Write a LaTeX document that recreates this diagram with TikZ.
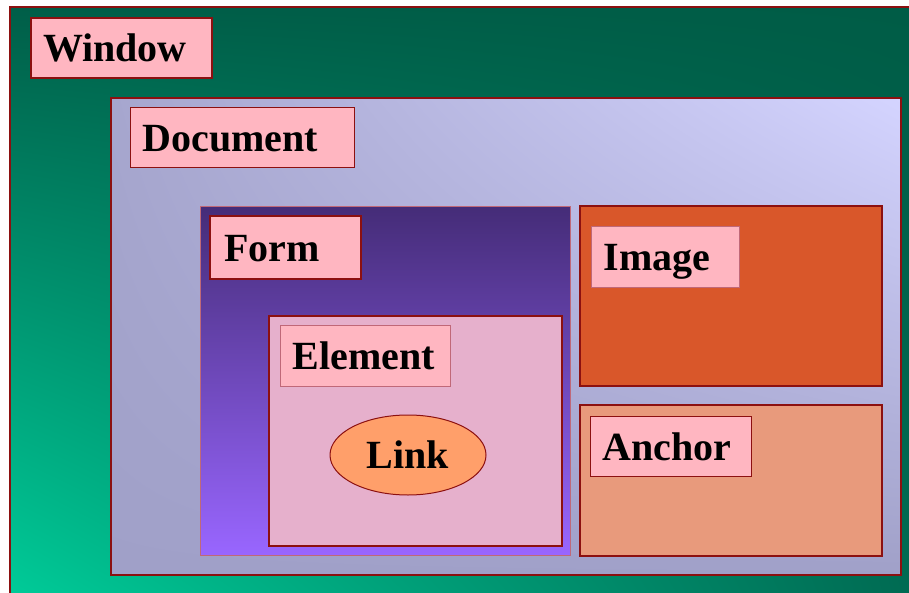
\documentclass[tikz,border=0pt]{standalone}
\usepackage{fontspec}
\setmainfont{Liberation Serif}
\usetikzlibrary{shapes.geometric,shadings}
\definecolor{bdr}{HTML}{8C1010}
\definecolor{lbl}{HTML}{FFB6C1}
\definecolor{elemfill}{HTML}{E6B0CC}
\definecolor{imgfill}{HTML}{D9572A}
\definecolor{ancfill}{HTML}{E89A7C}
\definecolor{linkfill}{HTML}{FF9F6A}
\definecolor{thinbdr}{HTML}{C06878}
\definecolor{winUL}{HTML}{005E48}
\definecolor{winUR}{HTML}{005C46}
\definecolor{winLL}{HTML}{00CC99}
\definecolor{winLR}{HTML}{006A52}
\definecolor{docUL}{HTML}{A6A6CE}
\definecolor{docUR}{HTML}{D4D4FF}
\definecolor{docLL}{HTML}{A0A0C8}
\definecolor{docLR}{HTML}{A0A0C8}
\definecolor{formtop}{HTML}{452C78}
\definecolor{formbot}{HTML}{9966FF}
\tikzset{
  box/.style={rectangle, anchor=north west, inner sep=0pt, draw=bdr, line width=2.4pt},
  lab/.style={rectangle, anchor=north west, fill=lbl, draw=bdr, line width=2pt,
    font=\bfseries\fontsize{40}{42}\selectfont, text height=27pt, text depth=0pt,
    inner xsep=12pt, inner ysep=0pt, align=left},
  lablight/.style={lab, draw=thinbdr, line width=1pt},
}
\begin{document}
\begin{tikzpicture}[x=1pt,y=-1pt]
\clip (0,0) rectangle (909,593);
\fill[white] (0,0) rectangle (909,593);
% Window
\node[box, minimum width=906pt, minimum height=592pt,
  upper left=winUL, upper right=winUR, lower left=winLL, lower right=winLR]
  (window) at (9,6) {};
% Document
\node[box, minimum width=790pt, minimum height=477pt,
  upper left=docUL, upper right=docUR, lower left=docLL, lower right=docLR]
  (document) at (110,97) {};
% Form
\node[box, draw=thinbdr, line width=1pt, minimum width=370pt, minimum height=349pt,
  top color=formtop, bottom color=formbot]
  (form) at (200,206) {};
% Element
\node[box, fill=elemfill, minimum width=293pt, minimum height=230pt] (element) at (268,315) {};
% Link
\node[ellipse, fill=linkfill, draw=bdr, line width=1pt, minimum width=156pt, minimum height=80pt,
  inner sep=0pt, font=\bfseries\fontsize{40}{42}\selectfont, text height=27pt, text depth=0pt]
  (link) at (408,455) {Link};
% Image
\node[box, fill=imgfill, minimum width=302pt, minimum height=180pt] (image) at (579,205) {};
% Anchor
\node[box, fill=ancfill, minimum width=302pt, minimum height=151pt] (anchor) at (579,404) {};
% Labels
\node[lab, minimum width=181pt, minimum height=60pt, text width=157pt] (windowlab) at (30,17) {Window};
\node[lab, line width=1.4pt, minimum width=224pt, minimum height=60pt, text width=200pt] (documentlab) at (130,107) {Document};
\node[lab, line width=2.4pt, minimum width=151pt, minimum height=63pt, text width=123pt, inner xsep=14pt] (formlab) at (209,215) {Form};
\node[lablight, minimum width=170pt, minimum height=61pt, text width=146pt] (elementlab) at (280,325) {Element};
\node[lablight, minimum width=148pt, minimum height=61pt, text width=124pt] (imagelab) at (591,226) {Image};
\node[lab, line width=1.4pt, minimum width=161pt, minimum height=60pt, text width=137pt] (anchorlab) at (590,416) {Anchor};
\end{tikzpicture}
\end{document}
